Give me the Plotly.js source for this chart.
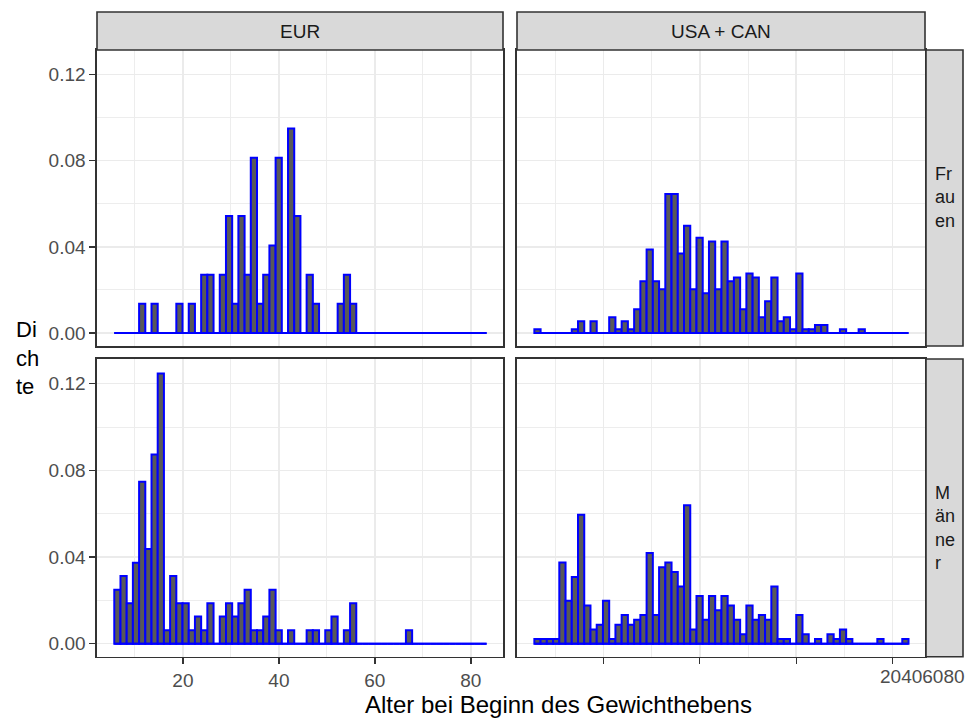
<!DOCTYPE html>
<html>
<head>
<meta charset="utf-8">
<script src="https://cdn.plot.ly/plotly-3.0.1.min.js"></script>
<style>html,body{margin:0;padding:0;background:#fff;}#plot{width:974px;height:718px;}</style>
</head>
<body>
<div id="plot"></div>
<script>
// ---- data ----
const binStart = 5.7;      // left edge of first bin (years)
const binWidth = 1.293;    // bin width (years)
const nBins = 60;

const regions = ["EUR", "USA + CAN"];
const sexes = ["Frauen", "Männer"];

// density per bin (60 bins each)
const eurFrauen = [0,0,0,0,0.0136,0,0.0136,0,0,0,0.0136,0,0.0136,0,0.0271,0.0271,0,0.0271,0.0543,0.0136,
  0.0543,0.0271,0.0814,0.0136,0.0271,0.0407,0.0814,0,0.0950,0.0543,0,0.0271,0.0136,0,0,0,0.0136,0.0271,0.0136,0,
  0,0,0,0,0,0,0,0,0,0,0,0,0,0,0,0,0,0,0,0];
const eurMaenner = [0.0249,0.0312,0.0187,0.0374,0.0748,0.0437,0.0873,0.1247,0.0062,0.0312,0.0187,0.0187,0.0062,0.0125,0.0062,0.0187,0,0.0125,0.0187,0.0125,
  0.0187,0.0249,0.0062,0.0062,0.0125,0.0249,0.0062,0,0.0062,0,0,0.0062,0.0062,0,0.0062,0.0125,0,0.0062,0.0187,0,
  0,0,0,0,0,0,0,0.0062,0,0,0,0,0,0,0,0,0,0,0,0];
const usaFrauen = [0.0018,0,0,0,0,0,0.0018,0.0055,0,0.0055,0,0,0.0074,0.0018,0.0055,0.0018,0.0111,0.0240,0.0388,0.0240,
  0.0203,0.0646,0.0646,0.0369,0.0498,0.0203,0.0443,0.0185,0.0425,0.0203,0.0425,0.0240,0.0258,0.0111,0.0277,0.0258,0.0074,0.0148,0.0258,0.0055,
  0.0074,0.0018,0.0277,0.0018,0.0018,0.0037,0.0037,0,0,0.0018,0,0,0.0018,0,0,0,0,0,0,0];
const usaMaenner = [0.0022,0.0022,0.0022,0.0022,0.0375,0.0198,0.0308,0.0595,0.0176,0.0066,0.0088,0.0198,0.0022,0.0088,0.0132,0.0088,0.0110,0.0132,0.0419,0.0132,
  0.0353,0.0375,0.0331,0.0264,0.0639,0.0066,0.0220,0.0110,0.0220,0.0154,0.0220,0.0176,0.0110,0.0044,0.0176,0.0110,0.0132,0.0110,0.0264,0.0022,
  0.0022,0,0.0132,0.0044,0,0.0022,0,0.0044,0.0022,0.0066,0.0022,0,0,0,0,0.0022,0,0,0,0.0022];

const xTickVals = [20, 40, 60, 80];
const xTickText = ["20", "40", "60", "80"];
const yTickVals = [0, 0.04, 0.08, 0.12];
const yTickText = ["0.00", "0.04", "0.08", "0.12"];

const xTitle = "Alter bei Beginn des Gewichthebens";
const yTitleLines = ["Di", "ch", "te"];
const rowStripLines = [["Fr", "au", "en"], ["M", "än", "ne", "r"]];
const collapsedXLabels = xTickText.join("");

// ---- layout helpers ----
const W = 974, H = 718;
const px = x => x / W;
const py = y => 1 - y / H;
const FONT = "Liberation Sans, Arial, Helvetica, sans-serif";

const binCenters = Array.from({length: nBins}, (_, i) => binStart + binWidth * (i + 0.5));
const binEnd = binStart + binWidth * nBins;

const panels = [
  {vals: eurFrauen, xa: "x", ya: "y"},
  {vals: usaFrauen, xa: "x2", ya: "y2"},
  {vals: eurMaenner, xa: "x3", ya: "y3"},
  {vals: usaMaenner, xa: "x4", ya: "y4"}
];

const traces = [];
panels.forEach(p => {
  // outline of zero-height bins along the baseline
  traces.push({
    type: "scatter", mode: "lines", x: [binStart, binEnd], y: [0, 0],
    xaxis: p.xa, yaxis: p.ya, line: {color: "#0000ff", width: 2},
    hoverinfo: "skip", showlegend: false
  });
  traces.push({
    type: "bar", x: binCenters, y: p.vals, width: binWidth,
    xaxis: p.xa, yaxis: p.ya,
    marker: {color: "#595959", line: {color: "#0000ff", width: 2}},
    showlegend: false
  });
});

const xRange = [2.1, 86.7];
const yRange = [-0.006, 0.1314];
const colDom = [[px(97), px(503)], [px(517), px(925)]];
const rowDom = [[py(346), py(50)], [py(656.7), py(359)]];

function xAxis(col, row, anchor) {
  const bottom = row === 1;
  return {
    domain: colDom[col], anchor: anchor, range: xRange, fixedrange: true,
    tickmode: "array", tickvals: xTickVals, ticktext: xTickText,
    showticklabels: bottom && col === 0,
    ticks: bottom ? "outside" : "", ticklen: 6, tickwidth: 1.4, tickcolor: "#333333",
    tickfont: {family: FONT, size: 19, color: "#4d4d4d"},
    showgrid: true, gridcolor: "#ebebeb", gridwidth: 1.5,
    minor: {dtick: 10, tick0: 0, showgrid: true, gridcolor: "#ebebeb", gridwidth: 0.9, ticks: ""},
    showline: true, mirror: true, linecolor: "#333333", linewidth: 1.6,
    zeroline: false
  };
}
function yAxis(col, row, anchor) {
  const left = col === 0;
  return {
    domain: rowDom[row], anchor: anchor, range: yRange, fixedrange: true,
    tickmode: "array", tickvals: yTickVals, ticktext: yTickText,
    showticklabels: left,
    ticks: left ? "outside" : "", ticklen: 6, tickwidth: 1.4, tickcolor: "#333333",
    tickfont: {family: FONT, size: 19, color: "#4d4d4d"},
    showgrid: true, gridcolor: "#ebebeb", gridwidth: 1.5,
    minor: {dtick: 0.02, tick0: 0, showgrid: true, gridcolor: "#ebebeb", gridwidth: 0.9, ticks: ""},
    showline: true, mirror: true, linecolor: "#333333", linewidth: 1.6,
    zeroline: false
  };
}

const stripStyle = {fillcolor: "#d9d9d9", line: {color: "#333333", width: 1.6}, layer: "above", xref: "paper", yref: "paper"};
const shapes = [
  Object.assign({type: "rect", x0: colDom[0][0], x1: colDom[0][1], y0: py(50), y1: py(12)}, stripStyle),
  Object.assign({type: "rect", x0: colDom[1][0], x1: colDom[1][1], y0: py(50), y1: py(12)}, stripStyle),
  Object.assign({type: "rect", x0: px(926), x1: px(963), y0: rowDom[0][0], y1: rowDom[0][1]}, stripStyle),
  Object.assign({type: "rect", x0: px(926), x1: px(963), y0: rowDom[1][0], y1: rowDom[1][1]}, stripStyle)
];

const ann = (o) => Object.assign({xref: "paper", yref: "paper", showarrow: false}, o);
const annotations = [
  ann({x: px(300), y: py(31), text: regions[0], xanchor: "center", yanchor: "middle", font: {family: FONT, size: 19, color: "#1a1a1a"}}),
  ann({x: px(721), y: py(31), text: regions[1], xanchor: "center", yanchor: "middle", font: {family: FONT, size: 19, color: "#1a1a1a"}}),
  ann({x: px(933), y: py(197), text: rowStripLines[0].join("<br>"), xanchor: "left", yanchor: "middle", align: "left", font: {family: FONT, size: 18, color: "#1a1a1a"}}),
  ann({x: px(933), y: py(528), text: rowStripLines[1].join("<br>"), xanchor: "left", yanchor: "middle", align: "left", font: {family: FONT, size: 18, color: "#1a1a1a"}}),
  ann({x: px(14), y: py(358), text: yTitleLines.join("<br>"), xanchor: "left", yanchor: "middle", align: "left", font: {family: FONT, size: 22, color: "#000000"}}),
  ann({x: px(558), y: py(704), text: xTitle, xanchor: "center", yanchor: "middle", font: {family: FONT, size: 24, color: "#000000"}}),
  ann({x: px(922.5), y: py(676), text: collapsedXLabels, xanchor: "center", yanchor: "middle", font: {family: FONT, size: 19, color: "#4d4d4d"}})
];

const layout = {
  width: W, height: H, autosize: false,
  margin: {l: 0, r: 0, t: 0, b: 0, pad: 0},
  paper_bgcolor: "#ffffff", plot_bgcolor: "#ffffff",
  showlegend: false, barmode: "overlay",
  font: {family: FONT},
  xaxis: xAxis(0, 0, "y"), yaxis: yAxis(0, 0, "x"),
  xaxis2: xAxis(1, 0, "y2"), yaxis2: yAxis(1, 0, "x2"),
  xaxis3: xAxis(0, 1, "y3"), yaxis3: yAxis(0, 1, "x3"),
  xaxis4: xAxis(1, 1, "y4"), yaxis4: yAxis(1, 1, "x4"),
  shapes: shapes, annotations: annotations
};

Plotly.newPlot("plot", traces, layout, {staticPlot: true, displayModeBar: false});
</script>
</body>
</html>
